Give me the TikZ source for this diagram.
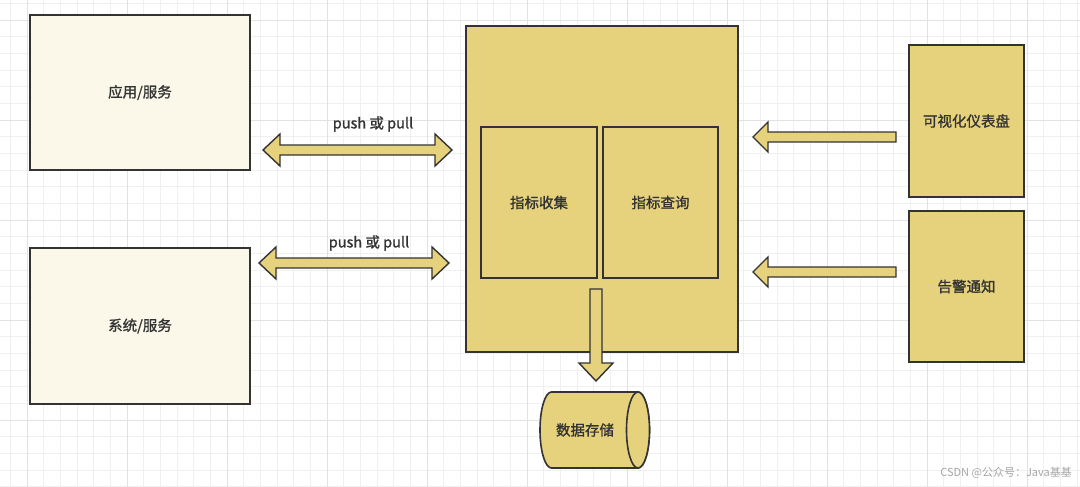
\documentclass[tikz,border=0pt]{standalone}
\usepackage{fontspec}
\setmainfont{Noto Sans CJK SC}[AutoFakeBold=1.2]
\definecolor{gold}{HTML}{E6D27C}
\definecolor{cream}{HTML}{FBF8EA}
\definecolor{edge}{HTML}{333333}
\definecolor{txt}{HTML}{333333}
\definecolor{gminor}{HTML}{F0F0F0}
\definecolor{gmajor}{HTML}{E2E2E2}
\tikzset{
  box/.style={draw=edge, line width=1.6pt, fill=gold},
  lbox/.style={draw=edge, line width=1.6pt, fill=cream},
  lbl/.style={text=txt, font=\fontsize{14.5}{17}\selectfont, inner sep=0pt},
  barrow/.style={draw=edge, line width=1.4pt, fill=gold, line join=miter},
  wm/.style={text=gray!70, font=\fontsize{11}{13}\selectfont, inner sep=0pt}
}
\begin{document}
\begin{tikzpicture}[x=1pt,y=-1pt]
\useasboundingbox (0,0) rectangle (1080,487);
\fill[white] (0,0) rectangle (1080,487);
% grid
\foreach \i in {0,...,65} {
  \pgfmathsetmacro\gx{10.333+16.6667*\i}
  \draw[gminor, line width=0.6pt] (\gx,0) -- (\gx,487);
}
\foreach \i in {0,...,29} {
  \pgfmathsetmacro\gy{3.333+16.6667*\i}
  \draw[gminor, line width=0.6pt] (0,\gy) -- (1080,\gy);
}
\foreach \gx in {27,127,...,1027} \draw[gmajor, line width=0.8pt] (\gx,0) -- (\gx,487);
\foreach \gy in {20,120,...,420} \draw[gmajor, line width=0.8pt] (0,\gy) -- (1080,\gy);

% left boxes
\draw[lbox] (30,15) rectangle (250,170);
\node[lbl] (app) at (140,92.5) {\bfseries 应用/服务};
\draw[lbox] (30,248) rectangle (250,404);
\node[lbl] (sys) at (140,326) {\bfseries 系统/服务};

% main box
\draw[box] (466,26) rectangle (738,352);
\draw[box] (481,127) rectangle (597,278);
\node[lbl] (collect) at (539,202.5) {\bfseries 指标收集};
\draw[box] (603,127) rectangle (718,278);
\node[lbl] (query) at (660.5,202.5) {\bfseries 指标查询};

% right boxes
\draw[box] (909,45) rectangle (1024,197);
\node[lbl] (dash) at (966.5,121) {\bfseries 可视化仪表盘};
\draw[box] (909,211) rectangle (1024,362);
\node[lbl] (alert) at (966.5,286.5) {\bfseries 告警通知};

% double arrows
\foreach \y/\xa/\xb in {150/263/452, 263/259/449} {
  \draw[barrow] (\xa,\y) -- (\xa+17,\y-16) -- (\xa+17,\y-5) -- (\xb-17,\y-5) -- (\xb-17,\y-16)
    -- (\xb,\y) -- (\xb-17,\y+16) -- (\xb-17,\y+5) -- (\xa+17,\y+5) -- (\xa+17,\y+16) -- cycle;
}
\node[lbl] (pp1) at (373,124) {\bfseries push 或 pull};
\node[lbl] (pp2) at (369,243) {\bfseries push 或 pull};

% left arrows from right boxes
\foreach \y in {137,272} {
  \draw[barrow] (753,\y) -- (768,\y-15) -- (768,\y-5) -- (896,\y-5) -- (896,\y+5)
    -- (768,\y+5) -- (768,\y+15) -- cycle;
}

% down arrow
\draw[barrow] (590,289) -- (602,289) -- (602,363) -- (613,363) -- (596,381)
  -- (579,363) -- (590,363) -- cycle;

% cylinder
\draw[box] (638,392) -- (551.5,392) arc[start angle=270, end angle=90, x radius=11.5, y radius=38]
  -- (638,468) arc[start angle=90, end angle=-90, x radius=11.5, y radius=38] -- cycle;
\draw[box] (638,430) ellipse[x radius=11.5, y radius=38];
\node[lbl] (store) at (585,430) {\bfseries 数据存储};

% watermark
\node[wm, anchor=east] (wmk) at (1072,473) {CSDN @公众号：Java基基};
\end{tikzpicture}
\end{document}
